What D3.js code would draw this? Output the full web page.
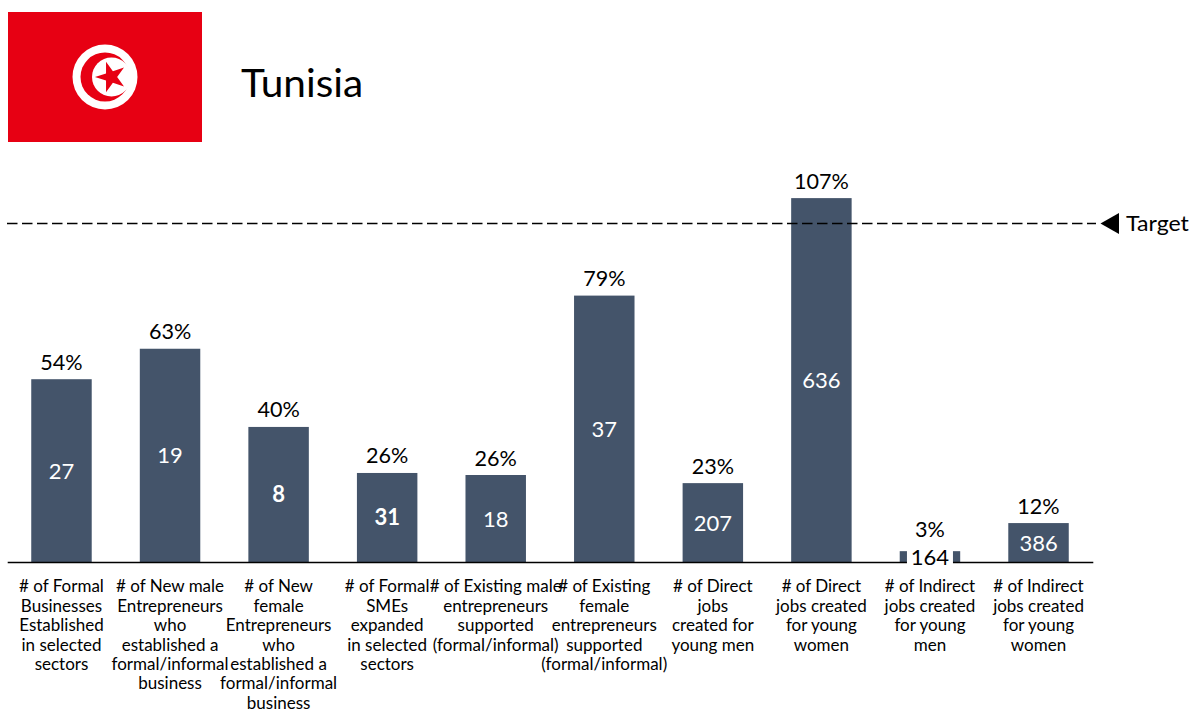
<!DOCTYPE html>
<html><head><meta charset="utf-8">
<script src="https://cdn.jsdelivr.net/npm/d3@7/dist/d3.min.js"></script>
<style>html,body{margin:0;padding:0;background:#fff;overflow:hidden}svg{display:block}text{font-family:Lato,"Noto Sans",sans-serif}</style>
</head><body><svg id="c" width="1192" height="709"></svg>
<script>
const categories = [
 ["# of Formal","Businesses","Established","in selected","sectors"],
 ["# of New male","Entrepreneurs","who","established a","formal/informal","business"],
 ["# of New","female","Entrepreneurs","who","established a","formal/informal","business"],
 ["# of Formal","SMEs","expanded","in selected","sectors"],
 ["# of Existing male","entrepreneurs","supported","(formal/informal)"],
 ["# of Existing","female","entrepreneurs","supported","(formal/informal)"],
 ["# of Direct","jobs","created for","young men"],
 ["# of Direct","jobs created","for young","women"],
 ["# of Indirect","jobs created","for young","men"],
 ["# of Indirect","jobs created","for young","women"]];
const heights = [54.0,63.0,39.9,26.3,25.7,78.7,23.3,107.5,3.2,11.5];
const percentLabels = ["54%","63%","40%","26%","26%","79%","23%","107%","3%","12%"];
const counts = [27,19,8,31,18,37,207,636,164,386];
const boldCounts = [8,31];
const target = 100;
const svg = d3.select("#c");
const x = d3.scaleBand().domain(d3.range(categories.length)).range([7.2,1092.8]).paddingInner(0.443).paddingOuter(0.2215);
const y = d3.scaleLinear().domain([0,100]).range([562,223.5]);
const fit = (sel,ratio)=>sel.each(function(){const l=this.getComputedTextLength();d3.select(this).attr("textLength",l*ratio).attr("lengthAdjust","spacingAndGlyphs");});

// flag
svg.append("rect").attr("x",8).attr("y",12).attr("width",194).attr("height",130).attr("fill","#E70013");
svg.append("circle").attr("cx",105).attr("cy",77).attr("r",32.5).attr("fill","#fff");
svg.append("circle").attr("cx",105).attr("cy",77).attr("r",24.5).attr("fill","#E70013");
svg.append("circle").attr("cx",111.5).attr("cy",77).attr("r",19.5).attr("fill","#fff");
svg.append("path").attr("transform","translate(111,77) rotate(-18)")
  .attr("d",d3.symbol(d3.symbolStar,290)()).attr("fill","#E70013");

svg.append("text").attr("x",241).attr("y",97).attr("font-size",39).attr("fill","#000").text("Tunisia").call(fit,1.04);

// bars
svg.append("g").selectAll("rect").data(heights).join("rect")
  .attr("x",(d,i)=>x(i)).attr("width",x.bandwidth())
  .attr("y",d=>y(d)).attr("height",d=>y(0)-y(d)).attr("fill","#44546A");

// axis
const axis = svg.append("g").attr("transform",`translate(0,${y(0)})`).call(d3.axisBottom(x).tickSize(0).tickSizeOuter(0).tickFormat(""));
axis.select(".domain").attr("stroke","#000").attr("stroke-width",1.5);
axis.selectAll(".tick text").remove();

// count labels
counts.forEach((d,i)=>{
  const small=heights[i]<5;
  const cx=x(i)+x.bandwidth()/2, cy= small? 556.5 : (y(heights[i])+y(0))/2;
  if(small) svg.append("rect").attr("x",cx-23).attr("y",y(heights[i])-2).attr("width",46).attr("height",y(0)-y(heights[i])+5).attr("fill","#fff");
  svg.append("text").attr("x",cx).attr("y",cy+8).attr("text-anchor","middle").attr("font-size",22)
    .attr("font-weight",boldCounts.includes(d)?700:400).attr("fill",small?"#000":"#fff").text(d).call(fit,1.0);
});

// percent labels
svg.append("g").selectAll("text").data(percentLabels).join("text")
  .attr("x",(d,i)=>x(i)+x.bandwidth()/2).attr("y",(d,i)=>y(heights[i])-(heights[i]<5?14:9.5)).attr("text-anchor","middle")
  .attr("font-size",22).attr("fill","#000").text(d=>d).call(fit,0.98);

// category labels
svg.append("g").selectAll("text").data(categories).join("text")
  .attr("text-anchor","middle").attr("font-size",17).attr("fill","#000")
  .each(function(lines,i){
    d3.select(this).selectAll("tspan").data(lines).join("tspan")
      .attr("x",x(i)+x.bandwidth()/2).attr("y",(d,j)=>592.3+j*19.4).text(d=>d);
  });

// target
svg.append("line").attr("x1",7).attr("x2",1096).attr("y1",y(target)).attr("y2",y(target)).attr("stroke","#000").attr("stroke-width",1.5).attr("stroke-dasharray","10.5 4.5");
svg.append("path").attr("d",`M1100.5,${y(target)}L1119,${y(target)-10.5}L1119,${y(target)+10.5}Z`).attr("fill","#000");
svg.append("text").attr("x",1126).attr("y",y(target)+7.5).attr("font-size",22).attr("fill","#000").text("Target").call(fit,1.05);
</script></body></html>
